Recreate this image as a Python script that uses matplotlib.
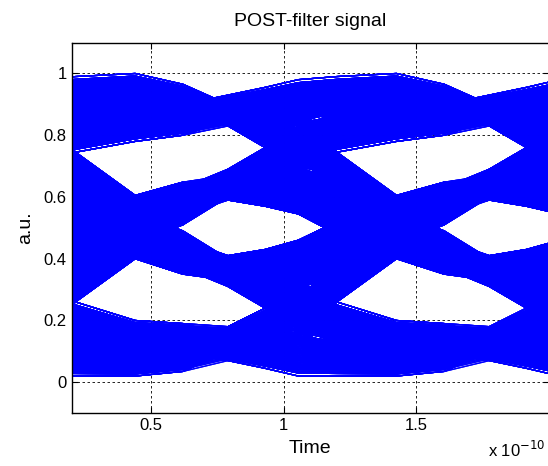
import matplotlib
matplotlib.use("Agg")
import matplotlib.pyplot as plt
import numpy as np
from matplotlib.collections import LineCollection

plt.rcParams['font.family'] = ['Liberation Sans', 'DejaVu Sans']

# symbol stream (4 levels, steps of at most one level)
SYMBOLS = [int(c) for c in
           "0011223321101233221000112232110123321101122332100112332210"
           "0112233221100012232110123321001223211011233211001122332110"]

# sample phases inside one symbol period (units of 1e-10 s)
PERIOD = 0.985
PHASES = [0.07, 0.215, 0.44, 0.62, 0.79, 0.93]

# (low, high) edge of the trace bundle at phases 0.07..0.62,
# arriving at symbol s from symbol p
ARRIVE_LO = {
    (0, 0): [0.02, 0.02, 0.02, 0.035],
    (1, 0): [0.16, 0.12, 0.10, 0.10],
    (0, 1): [0.13, 0.26, 0.40, 0.35],
    (1, 1): [0.30, 0.33, 0.42, 0.37],
    (1, 2): [0.38, 0.42, 0.45, 0.51],
    (2, 1): [0.545, 0.48, 0.45, 0.40],
    (2, 2): [0.58, 0.56, 0.50, 0.54],
    (3, 2): [0.70, 0.64, 0.52, 0.56],
    (2, 3): [0.68, 0.745, 0.78, 0.80],
    (3, 3): [0.84, 0.86, 0.88, 0.87],
}
ARRIVE_HI = {
    (0, 0): [0.16, 0.14, 0.12, 0.13],
    (1, 0): [0.32, 0.26, 0.20, 0.19],
    (0, 1): [0.30, 0.36, 0.48, 0.44],
    (1, 1): [0.42, 0.44, 0.50, 0.46],
    (1, 2): [0.46, 0.52, 0.55, 0.60],
    (2, 1): [0.62, 0.58, 0.55, 0.49],
    (2, 2): [0.70, 0.67, 0.58, 0.63],
    (3, 2): [0.87, 0.745, 0.605, 0.648],
    (2, 3): [0.84, 0.88, 0.90, 0.90],
    (3, 3): [0.98, 0.99, 1.0, 0.965],
}
# (low, high) edge at phases 0.79, 0.93, leaving symbol s towards symbol n
DEPART_LO = {
    (0, 0): [0.07, 0.045],
    (0, 1): [0.10, 0.13],
    (1, 0): [0.31, 0.24],
    (1, 1): [0.33, 0.31],
    (1, 2): [0.34, 0.36],
    (2, 1): [0.59, 0.57],
    (2, 2): [0.60, 0.60],
    (2, 3): [0.62, 0.67],
    (3, 2): [0.83, 0.76],
    (3, 3): [0.85, 0.85],
}
DEPART_HI = {
    (0, 0): [0.15, 0.15],
    (0, 1): [0.18, 0.24],
    (1, 0): [0.38, 0.33],
    (1, 1): [0.40, 0.40],
    (1, 2): [0.41, 0.43],
    (2, 1): [0.66, 0.64],
    (2, 2): [0.67, 0.69],
    (2, 3): [0.69, 0.76],
    (3, 2): [0.90, 0.87],
    (3, 3): [0.93, 0.955],
}

times = np.array([p for p in PHASES] + [PERIOD + p for p in PHASES]
                 + [2 * PERIOD + PHASES[0]])


def trace_edges(a, b, c, d):
    lo = (ARRIVE_LO[(a, b)] + DEPART_LO[(b, c)] + ARRIVE_LO[(b, c)]
          + DEPART_LO[(c, d)] + [ARRIVE_LO[(c, d)][0]])
    hi = (ARRIVE_HI[(a, b)] + DEPART_HI[(b, c)] + ARRIVE_HI[(b, c)]
          + DEPART_HI[(c, d)] + [ARRIVE_HI[(c, d)][0]])
    return np.array(lo), np.array(hi)


fig = plt.figure(figsize=(5.48, 4.66), dpi=100)
ax = fig.add_axes([0.1305, 0.1135, 0.8714, 0.7951])

# outermost traces sit a little apart from the bundle
fracs = [0.0] + list(np.linspace(0.07, 0.93, 22)) + [1.0]
segs = []
for i in range(len(SYMBOLS) - 3):
    lo, hi = trace_edges(*SYMBOLS[i:i + 4])
    for f in fracs:
        segs.append(np.column_stack([times, lo + f * (hi - lo)]))
ax.add_collection(LineCollection(segs, colors='#0000ff', linewidths=0.9))

ax.set_xlim(0.2, 2.0)
ax.set_ylim(-0.1, 1.1)
ax.set_xticks([0.5, 1, 1.5])
ax.set_xticklabels(['0.5', '1', '1.5'])
ax.set_yticks([0, 0.2, 0.4, 0.6, 0.8, 1])
ax.set_yticklabels(['0', '0.2', '0.4', '0.6', '0.8', '1'])
ax.set_axisbelow(True)
ax.grid(True, color='black', linestyle=(0, (3, 3)), linewidth=0.6)
ax.tick_params(direction='in', top=True, right=True, labelsize=12, length=4)
for sp in ax.spines.values():
    sp.set_linewidth(1.0)

ax.set_title('POST-filter signal', fontsize=14, pad=12)
ax.set_xlabel('Time', fontsize=14, labelpad=5)
ax.set_ylabel('a.u.', fontsize=14, labelpad=7)
fig.text(545 / 548, 1 - 457 / 466, r'x 10$^{-10}$', fontsize=12,
         ha='right', va='baseline')

fig.savefig('out.png', dpi=100)
